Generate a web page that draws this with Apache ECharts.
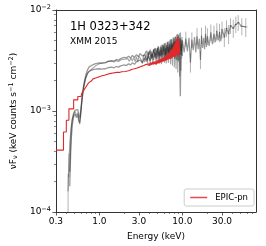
<!DOCTYPE html>
<html><head><meta charset="utf-8">
<script src="https://cdn.jsdelivr.net/npm/echarts@6/dist/echarts.min.js"></script>
<style>html,body{margin:0;padding:0;background:#fff}#c{width:266px;height:246px}</style>
</head><body><div id="c"></div>
<script>
// flux values in units of 1e-3 keV counts s^-1 cm^-2
const redE = [0.30,0.37,0.40,0.43,0.49,0.55,0.60,0.62,0.65,0.68,0.71,0.74,0.77,0.80,0.84,0.88,0.92,0.97,1.02,1.08,1.15,1.22,1.30,1.38,1.46,1.55,1.65,1.75,1.85,1.95,2.05,2.15,2.25,2.35,2.45,2.55,2.65,2.75,2.85,2.95,3.05,3.15,3.25,3.35,3.45,3.55,3.65,3.75,3.85,
  3.95,4.05,4.15,4.25,4.35,4.45,4.55,4.65,4.75,4.85,4.95,5.05,5.15,5.25,5.35,5.45,5.55,5.65,5.75,5.85,5.95,6.05,6.15,6.25,6.35,6.45,6.55,6.65,6.75,6.85,6.95,7.05,7.15,7.25,7.35,7.45,7.55,7.65,7.75,7.85,7.95,8.05,8.15,8.25,8.35,8.45,8.55,8.65,8.75,8.85,8.95,9.05,9.15,9.25,9.35];
const redF = [0.41,0.62,0.81,1.05,1.29,1.39,1.45,1.52,1.61,1.70,1.80,1.90,1.98,2.03,2.08,2.13,2.17,2.20,2.23,2.26,2.30,2.33,2.36,2.38,2.40,2.42,2.41,2.45,2.47,2.46,2.52,2.50,2.55,2.58,2.54,2.62,2.60,2.67,2.63,2.72,2.66,2.78,2.70,2.82,2.74,2.90,2.80,2.95,2.84,
  2.98,2.80,3.02,2.86,3.05,2.88,3.10,2.92,3.08,2.90,3.18,2.95,3.22,2.98,3.26,3.02,3.30,3.05,3.35,3.08,3.40,3.12,3.46,3.15,3.52,3.18,3.60,3.22,3.70,3.25,3.80,3.30,3.92,3.28,4.05,3.35,4.15,3.40,4.30,3.45,4.50,3.50,4.70,3.45,4.90,3.55,5.20,3.60,5.40,3.50,5.10,3.65,4.80,3.70,3.70];

const grayAE = [0.44,0.45,0.46,0.47,0.49,0.51,0.53,0.55,0.565,0.58,0.60,0.62,0.64,0.66,0.69,0.72,0.75,0.78,0.82,0.86,0.90,0.95,1.00,1.06,1.12,1.19,1.26,1.33,1.41,1.50,1.60,1.70,1.80,1.90,2.00,2.12,2.25,2.38,2.50,2.65,2.80,2.95,3.1,3.3,3.5,3.7,3.9,4.1,4.3,4.5,4.7,4.9,5.1,5.3,5.5,5.7,5.9,6.1,6.3,6.5,6.7,6.9,7.1,7.3,7.5,7.7,7.9,8.1,8.3,8.5,8.7,8.9,9.1,9.3,9.5,9.7,9.9];
const grayAF = [0.25,0.45,0.68,0.82,0.95,1.02,0.98,1.03,0.92,0.85,1.05,1.40,1.70,1.95,2.30,2.55,2.72,2.80,2.85,2.88,2.94,2.92,3.00,2.98,3.06,3.02,3.10,3.08,3.16,3.12,3.24,3.18,3.30,3.24,3.40,3.36,3.48,3.34,3.55,3.40,3.62,3.45,
  3.70,3.50,3.60,3.95,3.55,4.05,3.40,3.90,4.20,3.60,4.40,3.75,3.50,4.55,3.90,4.70,3.60,4.20,4.85,3.75,4.40,5.10,3.70,4.60,5.20,3.80,5.40,3.60,4.90,5.70,3.90,5.30,4.20,3.60,5.00];

const grayBE = [0.44,0.45,0.46,0.475,0.49,0.51,0.53,0.55,0.565,0.58,0.60,0.62,0.64,0.66,0.69,0.72,0.75,0.78,0.82,0.86,0.90,0.95,1.00,1.06,1.12,1.19,1.26,1.33,1.41,1.50,1.60,1.70,1.80,1.90,2.00,2.12,2.25,2.38,2.50,2.65,2.80,2.95,3.1,3.3,3.5,3.7,3.9,4.1,4.3,4.5,4.7,4.9,5.1,5.3,5.5,5.7,5.9,6.1,6.3,6.5,6.7,6.9,7.1,7.3,7.5,7.7,7.9,8.1,8.3,8.5,8.7,8.9,9.1,9.3,9.45,9.6,9.8,10.0];
const grayBF = [0.18,0.35,0.55,0.75,0.88,0.93,0.86,0.92,0.80,0.76,0.98,1.30,1.60,1.85,2.15,2.35,2.46,2.52,2.55,2.58,2.60,2.58,2.62,2.60,2.66,2.62,2.68,2.66,2.72,2.68,2.76,2.72,2.80,2.76,2.86,2.82,2.94,2.86,3.00,2.90,3.08,2.95,3.20,3.00,3.35,3.10,3.50,3.15,3.65,3.20,3.80,3.28,3.90,3.30,4.00,3.35,4.10,3.40,4.20,3.45,4.30,3.30,4.45,3.50,4.55,3.40,4.70,3.30,4.90,3.20,5.00,3.10,4.80,2.80,1.40,3.90,4.60,3.50];

const grayCE = [0.42,0.43,0.44,0.455,0.47,0.49,0.51,0.53,0.55,0.565,0.58,0.595,0.61,0.63,0.65,0.68,0.71,0.74,0.78,0.82,0.86,0.90,0.95,1.00,1.06,1.12,1.19,1.26,1.33,1.41,1.50,1.60,1.70,1.80,1.90,2.00,2.10,2.20,2.30,2.40,2.50,2.60,2.70,2.80,2.90,3.00,3.1,3.2,3.3,3.4,3.5,3.6,3.7,3.8,3.9,4.0,4.1,4.2,4.3,4.4,4.5,4.6,4.7,4.8,4.9,5.0,5.1,5.2,5.3,5.4,5.5,5.6,5.7,5.8,5.9,6.0,6.1,6.2,6.3,6.4,6.5,6.6,6.7,6.8,6.9,7.0,7.1,7.2,7.3,7.4,7.5,7.6,7.7,7.8,7.9,8.0,8.1,8.2,8.3,8.4,8.5,8.6,8.7,8.8,8.9,9.0,9.1,9.2,9.3,9.4,9.5,9.6,9.7,9.8,9.9];
const grayCF = [0.16,0.30,0.48,0.66,0.80,0.92,0.99,0.90,0.96,0.84,0.74,0.90,1.18,1.48,1.78,2.10,2.30,2.45,2.55,2.62,2.70,2.80,2.86,2.94,2.98,3.04,3.00,3.08,3.02,3.12,3.05,3.16,3.08,3.20,3.10,3.25,3.12,3.30,3.10,3.35,3.12,3.40,3.08,3.45,3.05,3.50,
  3.55,3.20,2.95,3.60,3.05,3.45,3.70,2.90,3.85,3.30,2.95,3.90,3.60,2.90,4.05,3.40,4.15,2.85,3.50,4.20,3.10,4.30,2.95,3.80,4.45,2.90,4.00,4.50,3.20,4.60,3.00,3.70,4.75,2.95,4.20,4.85,3.30,3.00,4.90,3.60,5.10,2.90,4.30,5.15,3.40,2.80,5.30,4.00,5.40,2.70,4.60,5.50,3.50,2.60,5.70,3.90,5.80,2.40,4.70,5.60,3.20,5.90,2.20,4.80,6.00,2.50,5.20,3.30,5.40];

const grayDE = [3.5,3.75,4.0,4.25,4.5,4.75,5.0,5.25,5.5,5.75,6.0,6.25,6.5,6.75,7.0,7.25,7.5,7.75,8.0,8.25,8.5,8.75,9.0,9.25,9.5,9.75,10.0,10.5,11,11.5,12,12.5,13,13.5,14,14.5,15,15.5,16,16.5,17,17.5,18,18.5,19,19.5,20,21,22,23,24,25,26,27,28,29,30,32,34,36,38,41,44,47,52,58];
const grayDF = [3.6,3.2,3.9,3.3,4.1,3.4,4.2,3.5,4.3,3.6,4.4,3.5,4.5,3.7,4.6,3.6,4.7,3.8,4.9,3.7,5.0,3.9,5.1,3.6,5.2,3.9,5.0,3.8,5.2,3.9,5.3,3.0,5.1,4.0,5.4,3.8,5.5,4.1,5.2,3.2,5.6,4.2,5.3,4.1,5.8,4.3,5.5,4.4,6.0,4.6,5.8,4.8,6.2,5.0,6.0,4.9,6.4,5.4,6.6,5.8,7.0,6.6,7.2,7.5,6.9,6.8];

// error bars: [E, F, Flo, Fhi, Elo, Ehi]
const errBars = [
  [0.42,0.16,0.10,0.24,0.42,0.42],
  [0.43,0.30,0.22,0.38,0.43,0.43],
  [11,5.2,4.3,6.1,11,11],
  [12.5,3.0,2.4,3.7,12.5,12.5],
  [13,5.1,4.2,6.0,13,13],
  [15,5.5,4.5,6.6,15,15],
  [16.5,3.2,2.6,3.9,16.5,16.5],
  [17,5.6,4.6,6.7,17,17],
  [19,5.8,4.7,7.0,19,19],
  [20,5.5,4.5,6.6,20,20],
  [22,6.0,4.9,7.2,22,22],
  [24,5.8,4.7,7.0,24,24],
  [26,6.2,5.0,7.4,25.5,26.5],
  [28,6.0,4.8,7.3,27.5,28.5],
  [30,6.4,5.2,7.7,29.3,30.8],
  [32,5.4,4.3,6.6,31,33],
  [34,6.6,5.4,7.9,33,35],
  [36,5.8,4.6,7.1,35,37],
  [38,7.0,5.8,8.3,37,39.5],
  [41,6.6,5.3,8.0,39.5,42.5],
  [44,7.2,5.9,8.6,42.5,45.5],
  [47,7.5,6.2,8.9,45.5,49],
  [52,6.9,5.6,8.3,49,55],
  [58,6.8,5.4,8.3,55,61]
];

const xMajor = [0.3,1,3,10,30];
const xMinor = [0.4,0.5,0.6,0.7,0.8,0.9,2,4,5,6,7,8,9,20,40,50,60,70];
const yMajor = [1e-4,1e-3,1e-2];
const yMinor = [2e-4,3e-4,4e-4,5e-4,6e-4,7e-4,8e-4,9e-4,2e-3,3e-3,4e-3,5e-3,6e-3,7e-3,8e-3,9e-3];

const S = 1e-3;
const pair = (E, F) => E.map((e, i) => [e, F[i] * S]);

const chart = echarts.init(document.getElementById('c'), null, {renderer: 'canvas'});
const axisCol = '#333';
const font = 'DejaVu Sans';
const grid = {left: 49, right: 10, top: 10, bottom: 34};
const XMIN = 0.3, XMAX = 77;

const grayLine = (data, col, w) => ({
  type: 'line', data, showSymbol: false, symbol: 'none', animation: false,
  lineStyle: {color: col, width: w}, z: 2, silent: true
});

chart.setOption({
  animation: false,
  textStyle: {fontFamily: font},
  grid,
  title: [
    {text: '1H 0323+342', left: 70, top: 21, padding: 0, textStyle: {fontSize: 11.5, fontWeight: 'normal', color: '#000', fontFamily: font}},
    {text: 'XMM 2015', left: 70, top: 37, padding: 0, textStyle: {fontSize: 9, fontWeight: 'normal', color: '#000', fontFamily: font}}
  ],
  legend: {
    data: ['EPIC-pn'], right: 12, bottom: 40, orient: 'vertical',
    backgroundColor: '#fff', borderColor: '#ccc', borderWidth: 1, borderRadius: 2,
    padding: [4, 6, 4, 6], itemWidth: 17, itemHeight: 1.5, icon: 'rect',
    textStyle: {fontSize: 8.5, color: '#000', fontFamily: font, padding: [0, 0, 0, 3]}
  },
  xAxis: [
    {type: 'log', logBase: 10, min: XMIN, max: XMAX, position: 'bottom',
     name: 'Energy (keV)', nameLocation: 'middle', nameGap: 20,
     nameTextStyle: {fontSize: 9, color: '#000', fontFamily: font},
     axisLine: {show: true, lineStyle: {color: axisCol, width: 1}},
     axisTick: {show: true, inside: false, length: 3.5, lineStyle: {color: axisCol, width: 0.8}, customValues: xMajor},
     axisLabel: {show: true, fontSize: 9, color: '#000', margin: 5, fontFamily: font, customValues: xMajor,
       formatter: v => Number(v).toFixed(1)},
     splitLine: {show: false}},
    {type: 'log', logBase: 10, min: XMIN, max: XMAX, position: 'bottom',
     axisLine: {show: false},
     axisTick: {show: true, inside: false, length: 2, lineStyle: {color: axisCol, width: 0.6}, customValues: xMinor},
     axisLabel: {show: false}, splitLine: {show: false}},
    {type: 'log', logBase: 10, min: XMIN, max: XMAX, position: 'top',
     axisLine: {show: true, lineStyle: {color: axisCol, width: 1}},
     axisTick: {show: false}, axisLabel: {show: false}, splitLine: {show: false}}
  ],
  yAxis: [
    {type: 'log', logBase: 10, min: 1e-4, max: 1e-2, position: 'left',
     name: 'νF{sub|ν} (keV counts s{sup|−1} cm{sup|−2})', nameLocation: 'middle', nameGap: 30, nameRotate: 90,
     nameTextStyle: {fontSize: 9, color: '#000', fontFamily: font,
       rich: {sub: {fontSize: 6.5, verticalAlign: 'bottom', padding: [4, 0, 0, 0], fontFamily: font},
              sup: {fontSize: 6.5, verticalAlign: 'top', padding: [0, 0, 4, 0], fontFamily: font}}},
     axisLine: {show: true, lineStyle: {color: axisCol, width: 1}},
     axisTick: {show: true, inside: false, length: 3.5, lineStyle: {color: axisCol, width: 0.8}, customValues: yMajor},
     axisLabel: {show: true, color: '#000', margin: 5, customValues: yMajor,
       formatter: v => '{b|10}{s|−' + Math.round(-Math.log10(v)) + '}',
       rich: {b: {fontSize: 9, fontFamily: font, color: '#000'},
              s: {fontSize: 6.5, fontFamily: font, color: '#000', verticalAlign: 'top', padding: [0, 0, 5, 0]}}},
     splitLine: {show: false}},
    {type: 'log', logBase: 10, min: 1e-4, max: 1e-2, position: 'left',
     axisLine: {show: false},
     axisTick: {show: true, inside: false, length: 2, lineStyle: {color: axisCol, width: 0.6}, customValues: yMinor},
     axisLabel: {show: false}, splitLine: {show: false}},
    {type: 'log', logBase: 10, min: 1e-4, max: 1e-2, position: 'right',
     axisLine: {show: true, lineStyle: {color: axisCol, width: 1}},
     axisTick: {show: false}, axisLabel: {show: false}, splitLine: {show: false}}
  ],
  series: [
    grayLine(pair(grayDE, grayDF), 'rgba(0,0,0,0.4)', 1.2),
    grayLine(pair(grayAE, grayAF), 'rgba(30,30,30,0.45)', 1.3),
    grayLine(pair(grayBE, grayBF), 'rgba(30,30,30,0.45)', 1.3),
    grayLine(pair(grayCE, grayCF), 'rgba(30,30,30,0.4)', 1.1),
    {type: 'custom', silent: true, z: 2,
     data: errBars.map(r => r.map((v, j) => j === 0 || j >= 4 ? v : v * S)),
     encode: {x: [0, 4, 5], y: [1, 2, 3]},
     renderItem: (params, api) => {
       const e = api.value(0), f = api.value(1), lo = api.value(2), hi = api.value(3), el = api.value(4), eh = api.value(5);
       const p1 = api.coord([e, lo]), p2 = api.coord([e, hi]);
       const st = {stroke: 'rgba(0,0,0,0.3)', lineWidth: 1};
       const children = [{type: 'line', shape: {x1: p1[0], y1: p1[1], x2: p2[0], y2: p2[1]}, style: st}];
       if (eh > el) {
         const q1 = api.coord([el, f]), q2 = api.coord([eh, f]);
         children.push({type: 'line', shape: {x1: q1[0], y1: q1[1], x2: q2[0], y2: q2[1]}, style: st});
       }
       return {type: 'group', children};
     }},
    {type: 'line', name: 'EPIC-pn', data: pair(redE, redF), step: 'end', showSymbol: false, symbol: 'none',
     lineStyle: {color: '#e0282a', width: 1.1}, itemStyle: {color: '#e8494b'}, z: 5, silent: true}
  ]
});
</script></body></html>
